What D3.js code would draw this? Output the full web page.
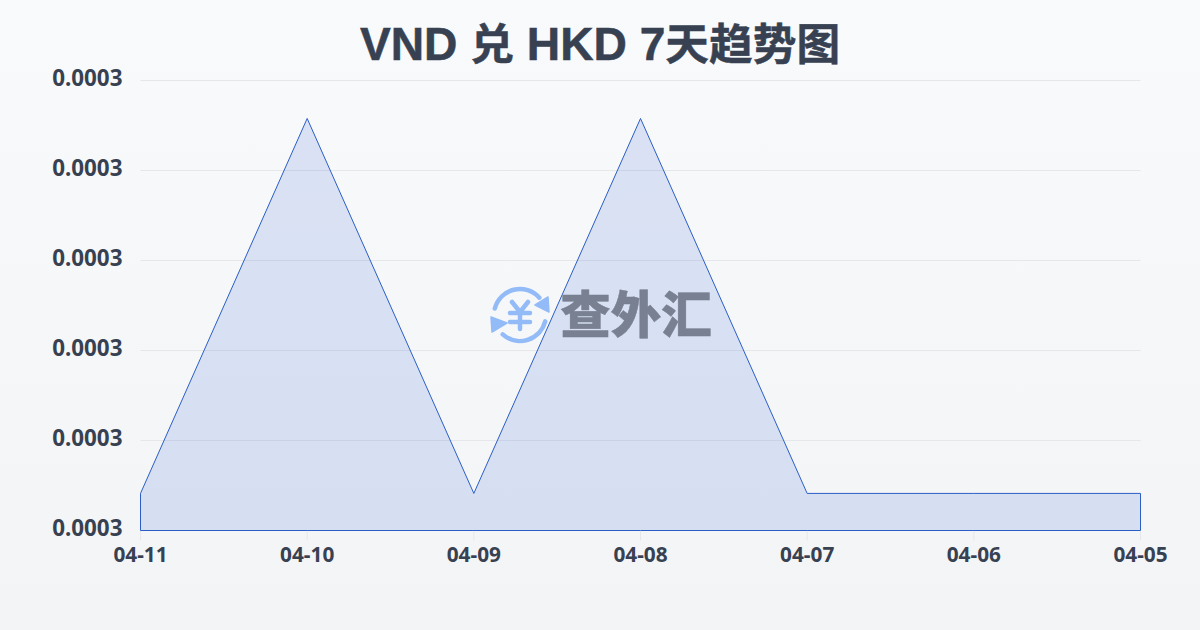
<!DOCTYPE html>
<html><head><meta charset="utf-8">
<script src="https://cdn.jsdelivr.net/npm/d3@7"></script>
<style>html,body{margin:0;padding:0;background:#f9fafb}svg{display:block}</style>
</head><body><div id="c"></div>
<script>
const titleParts = ["VND ","兑"," HKD 7","天趋势图"];
const dates = ["04-11","04-10","04-09","04-08","04-07","04-06","04-05"];
const rates = [0.00028206,0.00030289,0.00028206,0.00030289,0.00028206,0.00028206,0.00028206];
const yTicks = [0.00028,0.000285,0.00029,0.000295,0.0003,0.000305];
const watermark = "查外汇";

const W=1200,H=630,L=140.5,R=1140.5,T=80.5,B=530.5;
const svg=d3.select("#c").append("svg").attr("width",W).attr("height",H);
const defs=svg.append("defs");
const bg=defs.append("linearGradient").attr("id","bg").attr("x1",0).attr("y1",0).attr("x2",0).attr("y2",1);
bg.append("stop").attr("offset",0).attr("stop-color","#f9fafb");
bg.append("stop").attr("offset",1).attr("stop-color","#f3f4f6");
svg.append("rect").attr("width",W).attr("height",H).attr("fill","url(#bg)");

const sans="'Noto Sans','Noto Sans CJK SC',sans-serif";
const title=svg.append("text").attr("x",600).attr("y",60).attr("text-anchor","middle")
  .attr("font-family","'Liberation Sans','Noto Sans CJK SC',sans-serif").attr("font-weight",700).attr("fill","#374151")
  .attr("stroke","#374151").attr("stroke-width",0.5).style("white-space","pre");
title.selectAll("tspan").data(titleParts).join("tspan").text(d=>d).attr("font-size",(d,i)=>i%2?43.7:46.2);

const x=d3.scalePoint().domain(dates).range([L,R]);
const y=d3.scaleLinear().domain([yTicks[0],yTicks[yTicks.length-1]]).range([B,T]);

const gy=svg.append("g").attr("transform",`translate(${L},0)`)
  .call(d3.axisLeft(y).tickValues(yTicks).tickFormat(d3.format(".4f")).tickSize(0).tickPadding(18).offset(0));
gy.select(".domain").remove();
gy.selectAll("text").attr("font-family",sans).attr("font-weight",700).attr("font-size",22.4).attr("fill","#374151").attr("dy","0.25em");
gy.selectAll(".tick line").attr("x2",R-L).attr("stroke","#e5e7eb").attr("stroke-width",1);

const gx=svg.append("g").attr("transform",`translate(0,${B})`)
  .call(d3.axisBottom(x).tickSize(10).tickPadding(7).offset(0));
gx.select(".domain").remove();
gx.selectAll("text").attr("font-family",sans).attr("font-weight",700).attr("font-size",20.8).attr("fill","#374151");
gx.selectAll(".tick line").attr("stroke","#e5e7eb");

const area=d3.area().x((d,i)=>x(dates[i])).y0(B).y1(d=>y(d));
svg.append("path").datum(rates).attr("d",d=>area(d)+"Z")
  .attr("fill","#2058d4").attr("fill-opacity",0.14).attr("stroke","#2a5ec6").attr("stroke-width",1);

// watermark
const iconColor="#93bbf8";
const wm=svg.append("g");
const ic=wm.append("g").attr("transform","translate(520,315)").attr("fill","none").attr("stroke",iconColor);
const arcPath=(a,b)=>{const p=d3.path();p.arc(0,0,26,a-Math.PI/2,b-Math.PI/2);return p.toString();};
ic.append("path").attr("d",arcPath(-1.32,0.84)).attr("stroke-width",4.5).attr("stroke-linecap","round");
ic.append("path").attr("d",arcPath(1.82,3.87)).attr("stroke-width",4.5).attr("stroke-linecap","round");
ic.append("path").attr("d","M28 -18 L29 -3 L15 -10 Z").attr("fill",iconColor).attr("stroke",iconColor).attr("stroke-width",1.5).attr("stroke-linejoin","round");
ic.append("path").attr("d","M-29 2 L-13 8 L-28 17 Z").attr("fill",iconColor).attr("stroke",iconColor).attr("stroke-width",1.5).attr("stroke-linejoin","round");
ic.append("path").attr("d","M-8 -13 L0 -3 L8 -13 M-10 -2 H10 M-10 7 H10 M0 -3 V14").attr("stroke-width",4.5).attr("stroke-linecap","round").attr("stroke-linejoin","round");
wm.append("text").text(watermark).attr("x",636).attr("y",333).attr("text-anchor","middle")
  .attr("font-family","'Noto Sans CJK SC',sans-serif").attr("font-weight",900).attr("font-size",50.5).attr("fill","#788091").attr("stroke","#788091").attr("stroke-width",0.5);
</script></body></html>
